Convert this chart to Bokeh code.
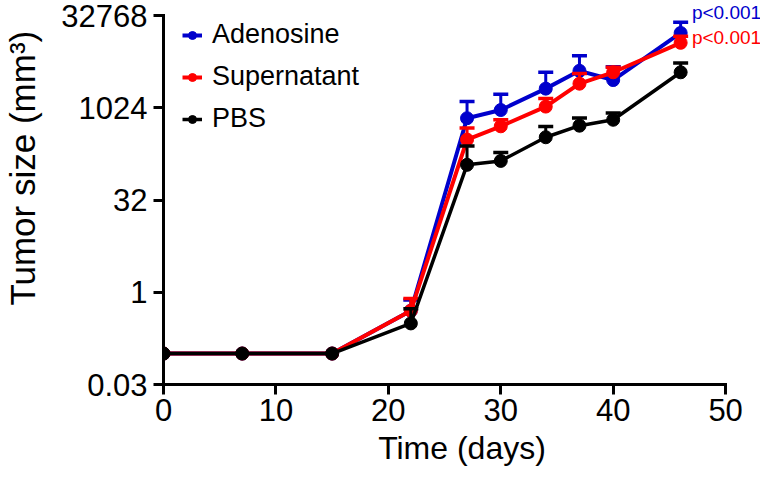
from bokeh.plotting import figure
from bokeh.models import Range1d, FixedTicker, Legend, LegendItem, Label, ColumnDataSource
from bokeh.embed import file_html
from bokeh.resources import INLINE

# ---- data ----
days = [0, 7, 15, 22, 27, 30, 34, 37, 40, 46]
adenosine = [0.1, 0.1, 0.1, 0.5, 690, 940, 2100, 4100, 2900, 17000]
adenosine_upper = [None, None, None, 0.75, 1300, 1700, 3900, 7200, 4800, 25500]
supernatant = [0.1, 0.1, 0.1, 0.5, 310, 510, 1070, 2530, 3880, 11750]
supernatant_upper = [None, None, None, 0.79, 480, 650, 1450, 3700, 4700, 15000]
pbs = [0.1, 0.1, 0.1, 0.31, 120, 139, 338, 522, 652, 3880]
pbs_upper = [None, None, None, 0.54, 243, 190, 508, 694, 843, 5480]

x_ticks = [0, 10, 20, 30, 40, 50]
y_ticks = [0.03125, 1, 32, 1024, 32768]
y_tick_labels = ["0.03", "1", "32", "1024", "32768"]
p_labels = ["p<0.001", "p<0.001"]

FONT = "Liberation Sans"
BLUE = "#0000CC"
RED = "#FF0000"
BLACK = "#000000"

# ---- layout ----
W, H = 760, 469
LEFT, BOTTOM = 161, 85
TOP_PAD = 15            # gap between figure top and the top y tick
px_per_day = 564 / x_ticks[-1]
x_range_end = (W - LEFT) / px_per_day
frame_h = H - BOTTOM
octaves = 20            # log2(y_ticks[-1] / y_ticks[0])
px_per_octave = (frame_h - TOP_PAD) / octaves
y_range_end = y_ticks[-1] * 2 ** (TOP_PAD / px_per_octave)

p = figure(width=W, height=H, y_axis_type="log",
           x_range=Range1d(0, x_range_end), y_range=Range1d(y_ticks[0], y_range_end),
           output_backend="svg", toolbar_location=None,
           min_border_left=LEFT, min_border_right=0,
           min_border_top=0, min_border_bottom=BOTTOM)
p.outline_line_color = None
p.xgrid.visible = False
p.ygrid.visible = False
p.background_fill_color = "white"
p.border_fill_color = "white"

p.xaxis.ticker = FixedTicker(ticks=x_ticks)
p.xaxis.bounds = (x_ticks[0], x_ticks[-1])
p.yaxis.ticker = FixedTicker(ticks=y_ticks)
p.yaxis.bounds = (y_ticks[0], y_ticks[-1])
p.yaxis.major_label_overrides = {t: l for t, l in zip(y_ticks, y_tick_labels)}

for ax in (p.xaxis[0], p.yaxis[0]):
    ax.axis_line_width = 3
    ax.axis_line_color = BLACK
    ax.axis_line_cap = "square"
    ax.major_tick_line_width = 3
    ax.major_tick_line_color = BLACK
    ax.major_tick_out = 10
    ax.major_tick_in = 0
    ax.minor_tick_out = 0
    ax.minor_tick_in = 0
    ax.major_label_text_font = FONT
    ax.major_label_text_font_size = "31px"
    ax.major_label_text_color = BLACK
    ax.axis_label_text_font = FONT
    ax.axis_label_text_font_style = "normal"
    ax.axis_label_text_color = BLACK
p.xaxis.major_label_standoff = 4
p.yaxis.major_label_standoff = 6

p.xaxis.axis_label = "Time (days)"
p.xaxis.axis_label_text_font_size = "32px"
p.xaxis.axis_label_standoff = 6
# leading no-break spaces shift the visible label upward along the axis
p.yaxis.axis_label = "\u00a0" * 5 + "Tumor size (mm³)"
p.yaxis.axis_label_text_font_size = "35px"
p.yaxis.axis_label_standoff = 16


def series(vals, uppers, color, lw):
    ex = [d for d, u in zip(days, uppers) if u is not None]
    ey = [v for v, u in zip(vals, uppers) if u is not None]
    eu = [u for u in uppers if u is not None]
    es = ColumnDataSource(dict(x=ex, y=ey, u=eu))
    p.segment(x0="x", y0="y", x1="x", y1="u", source=es, line_color=color, line_width=3)
    p.scatter(x="x", y="u", source=es, marker="dash", size=15, line_color=color, line_width=3.5)
    src = ColumnDataSource(dict(x=days, y=vals))
    ln = p.line(x="x", y="y", source=src, line_color=color, line_width=lw)
    mk = p.scatter(x="x", y="y", source=src, marker="circle", size=13,
                   fill_color=color, line_color=color)
    return ln, mk


la, ma = series(adenosine, adenosine_upper, BLUE, 4)
ls, ms = series(supernatant, supernatant_upper, RED, 4)
lp, mp = series(pbs, pbs_upper, BLACK, 3.5)

legend = Legend(items=[LegendItem(label="Adenosine", renderers=[la, ma]),
                       LegendItem(label="Supernatant", renderers=[ls, ms]),
                       LegendItem(label="PBS", renderers=[lp, mp])],
                location=(19, 250), padding=0, margin=0, spacing=11,
                label_height=30, glyph_height=20, glyph_width=20, label_standoff=10,
                label_text_font=FONT, label_text_font_size="27px",
                label_text_color=BLACK, label_text_baseline="middle",
                border_line_color=None, background_fill_alpha=0)
p.add_layout(legend)

p.add_layout(Label(x=47.0, y=36700, text=p_labels[0], text_color=BLUE,
                   text_font=FONT, text_font_size="19px", text_baseline="middle"))
p.add_layout(Label(x=47.0, y=14400, text=p_labels[1], text_color=RED,
                   text_font=FONT, text_font_size="19px", text_baseline="middle"))

open("out.html", "w").write(file_html(p, INLINE))
